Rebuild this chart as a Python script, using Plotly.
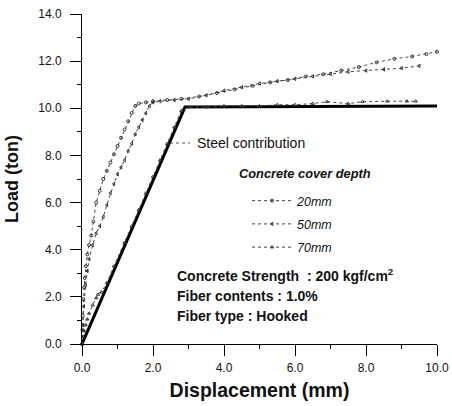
import plotly.graph_objects as go

# ---------------- data ----------------
steel_x = [0, 2.9, 10.0]
steel_y = [0, 10.05, 10.1]

c20_x = [0, 0.01, 0.02, 0.04, 0.06, 0.08, 0.11, 0.15, 0.2, 0.26, 0.32, 0.4, 0.5, 0.6,
         0.7, 0.8, 0.9, 1.0, 1.1, 1.2, 1.3, 1.4, 1.5, 1.6, 1.8, 2.0, 2.4, 2.8, 3.3,
         3.8, 4.3, 4.8, 5.3, 5.8, 6.3, 6.8, 7.3, 7.8, 8.3, 8.8, 9.3, 9.7, 10.0]
c20_y = [0, 0.6, 1.2, 1.9, 2.4, 2.8, 3.3, 3.8, 4.2, 4.6, 5.2, 6.0, 6.5, 7.0,
         7.35, 7.7, 8.05, 8.4, 8.75, 9.1, 9.45, 9.8, 10.1, 10.2, 10.25, 10.3, 10.35, 10.4, 10.5,
         10.65, 10.8, 10.95, 11.1, 11.2, 11.35, 11.45, 11.6, 11.75, 11.95, 12.1, 12.2, 12.3, 12.4]

c50_x = [0, 0.02, 0.05, 0.1, 0.15, 0.2, 0.3, 0.4, 0.5, 0.6, 0.7, 0.8, 0.9, 1.0, 1.1,
         1.2, 1.3, 1.4, 1.5, 1.6, 1.7, 1.8, 1.9, 2.0, 2.2, 2.6, 3.0, 3.5, 4.0, 4.5,
         5.0, 5.5, 6.0, 6.5, 7.0, 7.5, 8.0, 8.5, 9.0, 9.5]
c50_y = [0, 0.8, 1.6, 2.5, 3.1, 3.6, 4.2, 4.7, 5.0, 5.4, 5.9, 6.4, 6.8, 7.2, 7.5,
         7.8, 8.2, 8.5, 8.9, 9.2, 9.5, 9.8, 10.1, 10.25, 10.3, 10.35, 10.4, 10.55, 10.75, 10.9,
         11.05, 11.15, 11.25, 11.35, 11.45, 11.55, 11.6, 11.65, 11.7, 11.8]

c70_x = [0, 0.03, 0.06, 0.1, 0.15, 0.2, 0.3, 0.4, 0.45, 0.55, 0.7, 0.9, 1.2, 1.4, 1.6,
         1.8, 2.0, 2.2, 2.4, 2.6, 2.8, 3.0, 3.5, 4.0, 4.5, 5.0, 5.5, 6.0, 6.5, 6.9,
         7.5, 7.9, 8.6, 9.15, 9.4]
c70_y = [0, 0.3, 0.55, 0.8, 1.05, 1.3, 1.65, 1.95, 2.1, 2.2, 2.6, 3.3, 4.3, 5.0, 5.7,
         6.4, 7.1, 7.8, 8.5, 9.2, 9.9, 10.05, 10.05, 10.1, 10.1, 10.1, 10.15, 10.15, 10.2, 10.28,
         10.2, 10.28, 10.3, 10.3, 10.3]

series_names = ["20mm", "50mm", "70mm"]
x_ticks = [0, 2, 4, 6, 8, 10]
y_ticks = [0, 2, 4, 6, 8, 10, 12, 14]

FONT = "Liberation Sans, Arial, sans-serif"
INK = "#111111"

fig = go.Figure()

fig.add_trace(go.Scatter(
    x=steel_x, y=steel_y, mode="lines",
    line=dict(color="#000000", width=3),
    showlegend=False, cliponaxis=False, name="Steel contribution"))

symbols = ["circle-open", "triangle-left-open", "triangle-up-open"]
for name, xs, ys, sym in zip(series_names, [c20_x, c50_x, c70_x],
                             [c20_y, c50_y, c70_y], symbols):
    fig.add_trace(go.Scatter(
        x=xs, y=ys, mode="lines+markers", name=name,
        line=dict(color="#444444", width=1, dash="dot"),
        marker=dict(symbol=sym, size=3, color="#333333",
                    line=dict(width=1, color="#333333")),
        legendgroup=name, cliponaxis=False))

fig.update_layout(
    width=452, height=406,
    margin=dict(l=82, r=15, t=14, b=62, autoexpand=False),
    paper_bgcolor="white", plot_bgcolor="white",
    font=dict(family=FONT, color=INK, size=12),
    showlegend=True,
    legend=dict(
        x=(247 - 82) / 355, y=(344 - 186) / 330, xanchor="left", yanchor="top",
        bgcolor="rgba(0,0,0,0)", borderwidth=0,
        itemwidth=40, tracegroupgap=4, traceorder="grouped",
        font=dict(family=FONT, size=12.5, style="italic", color=INK),
    ),
)

fig.update_xaxes(
    range=[0, 10], tickvals=x_ticks, tickformat=".1f", automargin=False,
    showline=True, linecolor="#000000", linewidth=1, mirror=False,
    ticks="outside", ticklen=11, tickwidth=1, tickcolor="#000000",
    minor=dict(dtick=1, ticks="outside", ticklen=4, tickcolor="#000000", showgrid=False),
    showgrid=False, zeroline=False,
    tickfont=dict(family=FONT, size=12, color=INK), ticklabelstandoff=2,
    title=dict(text="Displacement (mm)", standoff=8,
               font=dict(family=FONT, size=19.5, weight="bold", color=INK)),
)
fig.update_yaxes(
    range=[0, 14], tickvals=y_ticks, tickformat=".1f", automargin=False,
    showline=True, linecolor="#000000", linewidth=1, mirror=False,
    ticks="outside", ticklen=11, tickwidth=1, tickcolor="#000000",
    minor=dict(dtick=1, ticks="outside", ticklen=4, tickcolor="#000000", showgrid=False),
    showgrid=False, zeroline=False,
    tickfont=dict(family=FONT, size=12, color=INK), ticklabelstandoff=6,
    title=dict(text="Load (ton)", standoff=14,
               font=dict(family=FONT, size=18, weight="bold", color=INK)),
)

# Legend heading
fig.add_annotation(xref="paper", yref="paper", x=(237 - 82) / 355, y=(344 - 173) / 330,
                   xanchor="left", yanchor="middle", showarrow=False,
                   text="Concrete cover depth",
                   font=dict(family=FONT, size=12.8, style="italic", weight="bold", color=INK))

# "Steel contribution" label with dashed leader
fig.add_shape(type="line", xref="paper", yref="paper",
              x0=(170 - 82) / 355, x1=(190 - 82) / 355,
              y0=(344 - 143) / 330, y1=(344 - 143) / 330,
              line=dict(color="#555555", width=1, dash="dot"))
fig.add_annotation(xref="paper", yref="paper", x=(195 - 82) / 355, y=(344 - 143) / 330,
                   xanchor="left", yanchor="middle", showarrow=False,
                   text="Steel contribution",
                   font=dict(family=FONT, size=14, color=INK))

# Test conditions text block
info_lines = ["Concrete Strength  : 200 kgf/cm<sup>2</sup>",
              "Fiber contents : 1.0%",
              "Fiber type : Hooked"]
for i, t in enumerate(info_lines):
    fig.add_annotation(xref="paper", yref="paper",
                       x=(175 - 82) / 355, y=(344 - (275 + 20.5 * i)) / 330,
                       xanchor="left", yanchor="middle", showarrow=False,
                       text=t, font=dict(family=FONT, size=14, weight="bold", color=INK))

fig.write_html("out.html")
